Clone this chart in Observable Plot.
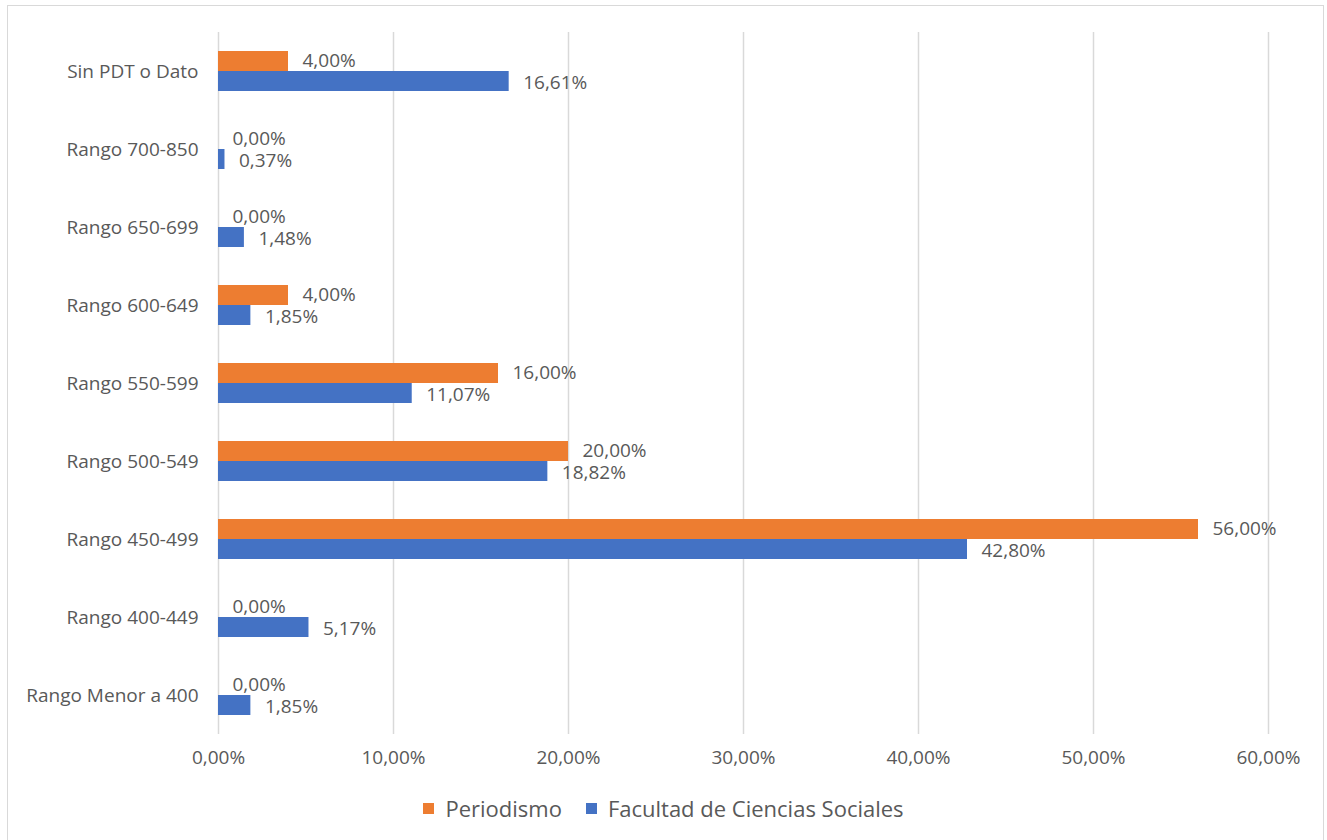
<!DOCTYPE html>
<html>
<head>
<meta charset="utf-8">
<script src="https://cdn.jsdelivr.net/npm/d3@7"></script>
<script src="https://cdn.jsdelivr.net/npm/@observablehq/plot@0.6"></script>
<style>
  html, body { margin: 0; padding: 0; background: #fff; }
  #wrap { position: relative; width: 1327px; height: 840px; overflow: hidden; font-family: "Open Sans", sans-serif; }
  #frame { position: absolute; left: 7px; top: 5px; width: 1317px; height: 850px; border: 1.5px solid #d9d9d9; box-sizing: border-box; }
  #chart { position: absolute; left: 0; top: 0; }
  #legend { position: absolute; top: 793px; left: 0; width: 1327px; display: flex; justify-content: center; gap: 24px; color: #595959; font-size: 22px; line-height: 30px; }
  #legend .item { display: flex; align-items: center; gap: 11px; }
  #legend .sw { width: 11px; height: 11px; display: inline-block; }
</style>
</head>
<body>
<div id="wrap">
  <div id="frame"></div>
  <div id="chart"></div>
  <div id="legend"></div>
</div>
<script>
const categorias = ["Sin PDT o Dato","Rango 700-850","Rango 650-699","Rango 600-649","Rango 550-599","Rango 500-549","Rango 450-499","Rango 400-449","Rango Menor a 400"];
const series = ["Periodismo","Facultad de Ciencias Sociales"];
const periodismo = [4.00, 0.00, 0.00, 4.00, 16.00, 20.00, 56.00, 0.00, 0.00];
const facultad = [16.61, 0.37, 1.48, 1.85, 11.07, 18.82, 42.80, 5.17, 1.85];
const xTicks = [0, 10, 20, 30, 40, 50, 60];
const colores = ["#ED7D31", "#4472C4"];

const fmt = v => v.toFixed(2).replace(".", ",") + "%";

const data = categorias.flatMap((c, i) => [
  {cat: c, serie: series[0], valor: periodismo[i]},
  {cat: c, serie: series[1], valor: facultad[i]}
]);

const chart = Plot.plot({
  width: 1327,
  height: 780,
  marginLeft: 218,
  marginRight: 59,
  marginTop: 31,
  marginBottom: 46,
  style: {fontFamily: "'Open Sans', sans-serif", fontSize: "19px", color: "#595959", background: "transparent"},
  x: {domain: [0, 60], ticks: xTicks, tickFormat: fmt, tickSize: 0, tickPadding: 16, label: null, fontSize: 19},
  y: {domain: series, axis: null, paddingInner: 0, paddingOuter: 0.9},
  fy: {domain: categorias, padding: 0, label: null, tickSize: 0, tickPadding: 20, axis: "left"},
  color: {domain: series, range: colores},
  marks: [
    Plot.ruleX(xTicks, {stroke: "#d9d9d9", strokeWidth: 1.5}),
    Plot.barX(data, {x: "valor", y: "serie", fy: "cat", fill: "serie"}),
    Plot.text(data.filter(d => d.serie === series[0]), {x: "valor", y: "serie", fy: "cat", text: d => fmt(d.valor), textAnchor: "start", dx: 14, dy: -1, fill: "#595959", fontSize: 19})
    ,
    Plot.text(data.filter(d => d.serie === series[1]), {x: "valor", y: "serie", fy: "cat", text: d => fmt(d.valor), textAnchor: "start", dx: 14, dy: 1, fill: "#595959", fontSize: 19})
  ]
});
document.getElementById("chart").appendChild(chart);

const legend = document.getElementById("legend");
series.forEach((s, i) => {
  const item = document.createElement("div");
  item.className = "item";
  const sw = document.createElement("span");
  sw.className = "sw";
  sw.style.background = colores[i];
  const t = document.createElement("span");
  t.textContent = s;
  item.appendChild(sw);
  item.appendChild(t);
  legend.appendChild(item);
});
</script>
</body>
</html>
